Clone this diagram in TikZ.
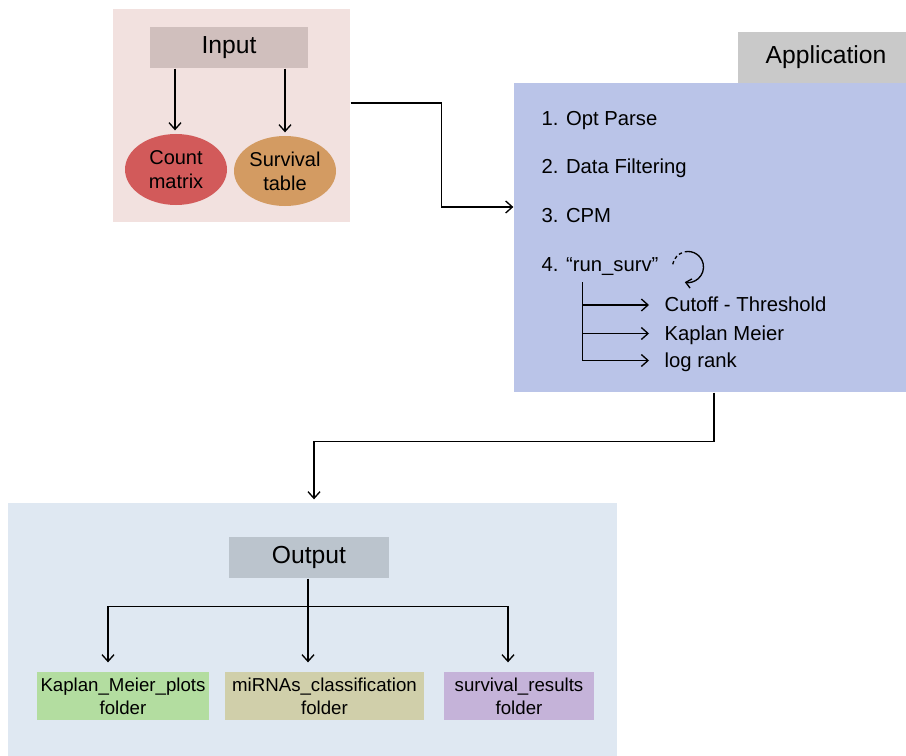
\documentclass[tikz,border=0pt]{standalone}
\usepackage{fontspec}
\setmainfont{Liberation Sans}
\usetikzlibrary{arrows.meta,shapes.geometric,calc}

\definecolor{inputbg}{HTML}{F2E1DF}
\definecolor{inputhead}{HTML}{D0BFBD}
\definecolor{countred}{HTML}{D25A5A}
\definecolor{survorange}{HTML}{D39B62}
\definecolor{apptab}{HTML}{C9C9C9}
\definecolor{appbg}{HTML}{BAC4E8}
\definecolor{outputbg}{HTML}{DFE8F2}
\definecolor{outputhead}{HTML}{BBC4CD}
\definecolor{kmgreen}{HTML}{B3DDA0}
\definecolor{clsolive}{HTML}{D0CFAA}
\definecolor{respurple}{HTML}{C5B3D9}

\tikzset{every picture/.style={line width=1pt}}

\begin{document}
\begin{tikzpicture}[x=0.75pt,y=0.75pt,yscale=-1,xscale=1,
  tip/.style={-{Straight Barb[length=5pt,width=9pt]}},
  panel/.style={draw=none,rectangle,inner sep=0pt},
  head/.style={draw=none,rectangle,inner sep=0pt,font=\fontsize{18.5}{21}\selectfont},
  blob/.style={ellipse,draw=none,inner sep=0pt,align=center,font=\fontsize{15}{18}\selectfont},
  item/.style={anchor=base west,inner sep=0pt,font=\fontsize{15.2}{17}\selectfont},
  folder/.style={rectangle,draw=none,inner sep=0pt,align=center,minimum height=36pt,font=\fontsize{14}{17}\selectfont}]
  \path[use as bounding box] (0,0) rectangle (906,756);

  %Shape: Rectangle [Input panel]
  \node[panel,fill=inputbg,minimum width=177.75pt,minimum height=159.75pt] (inpanel) at (231.5,115.5) {};
  %Shape: Rectangle [Input]
  \node[head,fill=inputhead,minimum width=118.5pt,minimum height=30.75pt] (inbox) at (229,47.5) {Input};
  %Shape: Ellipse
  \node[blob,fill=countred,minimum width=76.5pt,minimum height=53.25pt] (count) at (176,169.5) {Count\\matrix};
  %Shape: Ellipse
  \node[blob,fill=survorange,minimum width=76.5pt,minimum height=52.5pt] (surv) at (285,171) {Survival\\table};
  %Straight Lines
  \draw[tip] (inbox.south -| 175,0) -- ($(count.north)+(-1,-3)$);
  \draw[tip] (inbox.south -| surv.north) -- ($(surv.north)+(0,-3)$);

  %Shape: Rectangle [Application]
  \node[panel,fill=appbg,minimum width=294pt,minimum height=231.75pt] (appbox) at (710,237.5) {};
  \node[head,fill=apptab,minimum width=126pt,minimum height=38.25pt] (apptab) at (822,57.5) {\hspace{6pt}Application};

  % Text Node
  \node[item] (step1) at (541,125.5) {1. Opt Parse};
  % Text Node
  \node[item] (step2) at (541,174) {2. Data Filtering};
  % Text Node
  \node[item] (step3) at (541,222.5) {3. CPM};
  % Text Node
  \node[item] (step4) at (541,271) {4. “run\_surv”};
  % Text Node
  \node[item] (cutoff) at (664,311.5) {Cutoff - Threshold};
  % Text Node
  \node[item] (kmeier) at (664,340) {Kaplan Meier};
  % Text Node
  \node[item] (logrank) at (664,367) {log rank};

  %Curve Lines [loop]
  \coordinate (loopc) at (688,267);
  \draw[dashed,dash pattern=on 2.5pt off 2pt] (loopc) ++(190:15.5) arc (190:255:15.5);
  \draw[-{Straight Barb[length=4pt,width=7pt]}] (loopc) ++(258:15.5) arc (258:462:15.5);

  %Straight Lines [run_surv tree]
  \coordinate (trunk) at (582.5,282);
  \draw[tip] (trunk) |- ($(cutoff.base west)+(-15,-6.5)$);
  \draw[tip] (trunk) |- ($(kmeier.base west)+(-15,-6.5)$);
  \draw[tip] (trunk) |- ($(logrank.base west)+(-15,-6.5)$);

  %Shape: Rectangle [Output panel]
  \node[panel,fill=outputbg,minimum width=456.75pt,minimum height=189.75pt] (outpanel) at (312.5,629.5) {};
  %Shape: Rectangle [Output]
  \node[head,fill=outputhead,minimum width=120pt,minimum height=30.75pt] (outbox) at (309,557.5) {Output};
  %Shape: Rectangle [folders]
  \node[folder,fill=kmgreen,minimum width=129pt] (kmfolder) at (123,696) {Kaplan\_Meier\_plots\\folder};
  \node[folder,fill=clsolive,minimum width=149.25pt] (clsfolder) at (324.5,696) {miRNAs\_classification\\folder};
  \node[folder,fill=respurple,minimum width=112.5pt] (resfolder) at (519,696) {survival\_results\\folder};

  %Straight Lines [output tree]
  \coordinate (split) at ($(outbox.south)+(-1,28)$);
  \draw (outbox.south -| split) -- (split);
  \draw[tip] (split) -| ($(kmfolder.north)+(-15,-9)$);
  \draw[tip] (split) -- ($(clsfolder.north)+(-16.5,-9)$);
  \draw[tip] (split) -| ($(resfolder.north)+(-11,-9)$);

  %Straight Lines [input to application]
  \draw[tip] ($(inpanel.east)+(0,-12.5)$) -- ++(91,0) |- ($(appbox.west)+(0,-30.5)$);
  %Straight Lines [application to output]
  \draw[tip] ($(appbox.south)+(4,0)$) -- ++(0,49) -| ($(outpanel.north)+(1.5,-3)$);

\end{tikzpicture}
\end{document}
